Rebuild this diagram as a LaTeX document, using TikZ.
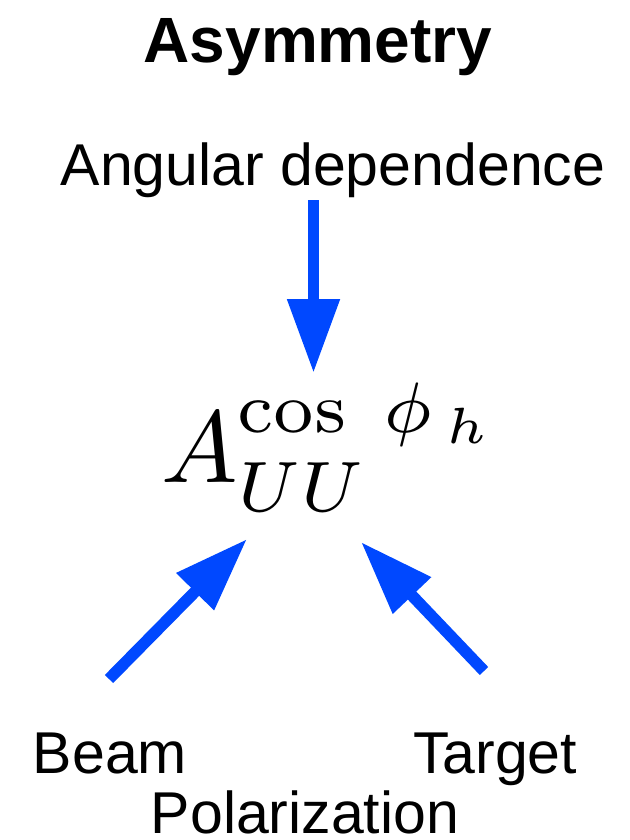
\documentclass[tikz,border=0pt]{standalone}
\usepackage{fontspec}
\newfontfamily\arialfont{Liberation Sans}
\usetikzlibrary{arrows.meta}
\definecolor{arrowblue}{RGB}{0,72,255}
\tikzset{
  lbltext/.style={font=\arialfont\fontsize{59}{66}\selectfont, inner sep=0pt, anchor=base},
  titletext/.style={lbltext, font=\arialfont\bfseries\fontsize{64}{72}\selectfont},
  asymtext/.style={inner sep=0pt, anchor=base west, scale=10.2, transform shape},
  bigarrow/.style={-{Triangle[length=74pt,width=50pt]}, line width=11.6pt, arrowblue}
}

\begin{document}
\begin{tikzpicture}[x=1pt, y=-1pt]
\useasboundingbox (0,0) rectangle (629,840);
% labels
\node[titletext] (title) at (318,63) {Asymmetry};
\node[lbltext] (angdep) at (333,185) {Angular dependence};
\node[asymtext] (asym) at (159,482) {$A^{\cos\;\phi_{\,h}}_{UU}$};
\node[lbltext] (beam) at (110,773) {Beam};
\node[lbltext] (target) at (495,773) {Target};
\node[lbltext] (polar) at (305,833) {Polarization};
% arrow ends
\coordinate (angtail) at (313.5,200);
\coordinate (angtip) at (313.5,373);
\coordinate (beamtail) at (109,679);
\coordinate (beamtip) at (247,539);
\coordinate (targettail) at (484,671);
\coordinate (targettip) at (361,542);
\draw[bigarrow] (angtail) -- (angtip);
\draw[bigarrow] (beamtail) -- (beamtip);
\draw[bigarrow] (targettail) -- (targettip);
\end{tikzpicture}
\end{document}
